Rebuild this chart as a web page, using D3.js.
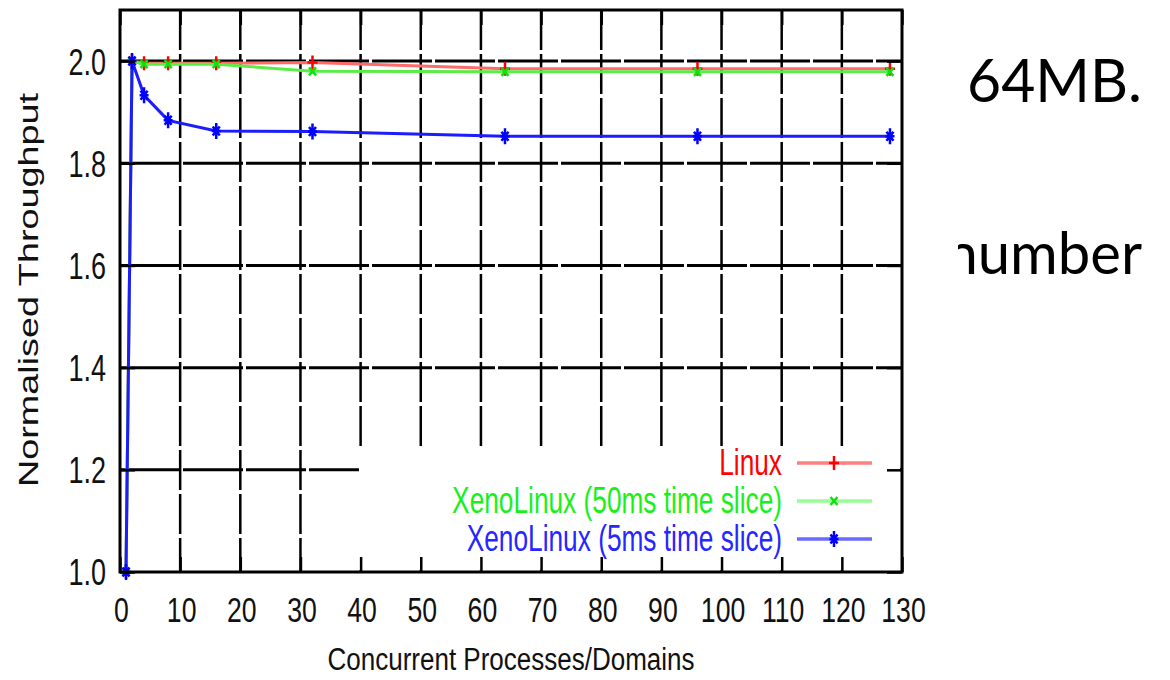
<!DOCTYPE html>
<html>
<head>
<meta charset="utf-8">
<script src="https://cdn.jsdelivr.net/npm/d3@7"></script>
<style>
  html, body { margin: 0; padding: 0; background: #fff; }
  svg { display: block; }
</style>
</head>
<body>
<div id="chart"></div>
<script>
// values
const processes = [1, 2, 4, 8, 16, 32, 64, 96, 128];
const linux = [1.0, 2.0, 1.996, 1.996, 1.996, 1.997, 1.985, 1.985, 1.985];
const xeno50 = [1.0, 2.0, 1.994, 1.994, 1.994, 1.98, 1.979, 1.979, 1.979];
const xeno5 = [1.0, 2.0, 1.933, 1.884, 1.863, 1.862, 1.853, 1.853, 1.853];
const seriesNames = ["Linux", "XenoLinux (50ms time slice)", "XenoLinux (5ms time slice)"];
const xTicks = d3.range(0, 131, 10);
const yTicks = [1.0, 1.2, 1.4, 1.6, 1.8, 2.0];
const slideWords = ["64MB.", "number"];

const width = 1170, height = 680;
const font = "'Liberation Sans', Arial, Helvetica, sans-serif";

const x = d3.scaleLinear().domain([0, 130]).range([120, 902]);
const y = d3.scaleLinear().domain([1.0, 2.1]).range([572, 10]);

const series = [
  { name: seriesNames[0], values: linux, line: "#ff6a6a", key: "#ff8080", mark: "#ff0000", text: "#ff0000", shape: "plus" },
  { name: seriesNames[1], values: xeno50, line: "#5cec48", key: "#98ff98", mark: "#10e010", text: "#18f018", shape: "cross" },
  { name: seriesNames[2], values: xeno5, line: "#1c1cff", key: "#6a6aff", mark: "#0000ff", text: "#2626ff", shape: "star" },
];

// marker glyphs (the plot is squashed sideways, so are they)
const shapes = {
  plus: "M0,-7V7M-5,0H5",
  cross: "M-3.5,-4L3.5,4M-3.5,4L3.5,-4",
  star: "M0,-8V8M-4.5,0H4.5M-3.5,-4.5L3.5,4.5M-3.5,4.5L3.5,-4.5",
};

const svg = d3.select("#chart").append("svg")
  .attr("width", width)
  .attr("height", height)
  .style("background", "#fff");

// slide text that sits behind the pasted chart
svg.append("text")
  .attr("x", 967).attr("y", 102)
  .attr("font-family", "Lato, 'Open Sans', sans-serif")
  .attr("font-size", 60)
  .attr("textLength", 175)
  .attr("lengthAdjust", "spacingAndGlyphs")
  .attr("fill", "#000")
  .text(slideWords[0]);

svg.append("text")
  .attr("x", 1142).attr("y", 274)
  .attr("text-anchor", "end")
  .attr("font-family", "Lato, 'Open Sans', sans-serif")
  .attr("font-size", 58)
  .attr("fill", "#000")
  .text(slideWords[1]);

// the chart picture's own white background (hides the start of "number")
svg.append("rect")
  .attr("x", 0).attr("y", 0)
  .attr("width", 958).attr("height", height)
  .attr("fill", "#fff");

// grid
const grid = svg.append("g").attr("stroke", "#000");
grid.selectAll("line.h")
  .data(yTicks.filter((v) => v > 1.0))
  .join("line")
  .attr("class", "h")
  .attr("x1", x(0)).attr("x2", x(130))
  .attr("y1", (d) => y(d)).attr("y2", (d) => y(d))
  .attr("stroke-width", 3)
  .attr("stroke-dasharray", "60,3");
grid.selectAll("line.v")
  .data(xTicks.filter((v) => v > 0 && v < 130))
  .join("line")
  .attr("class", "v")
  .attr("x1", (d) => x(d)).attr("x2", (d) => x(d))
  .attr("y1", y(2.1)).attr("y2", y(1.0))
  .attr("stroke-width", 2.5)
  .attr("stroke-dasharray", "40,4");

// opaque key box
svg.append("rect")
  .attr("x", 359).attr("y", 447)
  .attr("width", 541).attr("height", 123)
  .attr("fill", "#fff");

// series
const line = d3.line()
  .x((d) => x(d.p))
  .y((d) => y(d.v));

series.forEach((s) => {
  const pts = processes.map((p, i) => ({ p: p, v: s.values[i] }));
  svg.append("path")
    .datum(pts)
    .attr("fill", "none")
    .attr("stroke", s.line)
    .attr("stroke-width", 3)
    .attr("d", line);
  svg.append("g")
    .selectAll("path")
    .data(pts)
    .join("path")
    .attr("transform", (d) => `translate(${x(d.p)},${y(d.v)})`)
    .attr("d", shapes[s.shape])
    .attr("fill", "none")
    .attr("stroke", s.mark)
    .attr("stroke-width", 2.5);
});

// axes, ticks point inwards
const fmt = d3.format(".1f");
const yAxis = svg.append("g")
  .attr("transform", `translate(${x(0)},0)`)
  .call(d3.axisLeft(y).tickValues(yTicks).tickSize(-15).tickFormat(fmt));
const xAxis = svg.append("g")
  .attr("transform", `translate(0,${y(1.0)})`)
  .call(d3.axisBottom(x).tickValues(xTicks).tickSize(-15));
const rAxis = svg.append("g")
  .attr("transform", `translate(${x(130)},0)`)
  .call(d3.axisRight(y).tickValues(yTicks).tickSize(-15).tickFormat(""));
const tAxis = svg.append("g")
  .attr("transform", `translate(0,${y(2.1)})`)
  .call(d3.axisTop(x).tickValues(xTicks).tickSize(-15).tickFormat(""));

[yAxis, xAxis, rAxis, tAxis].forEach((a) => {
  a.select(".domain").remove();
  a.selectAll(".tick line").attr("stroke", "#000").attr("stroke-width", 2.5);
});

yAxis.selectAll(".tick text")
  .attr("x", 0)
  .attr("dy", "0.36em")
  .attr("transform", "translate(-14,0) scale(0.75,1)")
  .attr("font-family", font)
  .attr("font-size", 36)
  .attr("fill", "#111");

xAxis.selectAll(".tick text")
  .attr("y", 0)
  .attr("dy", "0.71em")
  .attr("transform", "translate(1,24) scale(0.74,1)")
  .attr("font-family", font)
  .attr("font-size", 36)
  .attr("fill", "#111");

// frame
svg.append("rect")
  .attr("x", x(0)).attr("y", y(2.1))
  .attr("width", x(130) - x(0))
  .attr("height", y(1.0) - y(2.1))
  .attr("fill", "none")
  .attr("stroke", "#000")
  .attr("stroke-width", 3);

// key
const key = svg.append("g")
  .selectAll("g")
  .data(series)
  .join("g")
  .attr("transform", (d, i) => `translate(0,${463 + i * 38})`);

key.append("text")
  .attr("x", 0)
  .attr("y", 0)
  .attr("transform", "translate(782,12) scale(0.71,1)")
  .attr("text-anchor", "end")
  .attr("font-family", font)
  .attr("font-size", 37)
  .attr("fill", (d) => d.text)
  .text((d) => d.name);

key.append("line")
  .attr("x1", 797).attr("x2", 872)
  .attr("stroke", (d) => d.key)
  .attr("stroke-width", 3.5);

key.append("path")
  .attr("transform", "translate(834,0)")
  .attr("d", (d) => shapes[d.shape])
  .attr("fill", "none")
  .attr("stroke", (d) => d.mark)
  .attr("stroke-width", 2.5);

// axis titles
svg.append("text")
  .attr("x", 511).attr("y", 670)
  .attr("text-anchor", "middle")
  .attr("font-family", font)
  .attr("font-size", 31)
  .attr("textLength", 367)
  .attr("lengthAdjust", "spacingAndGlyphs")
  .attr("fill", "#111")
  .text("Concurrent Processes/Domains");

svg.append("text")
  .attr("transform", "translate(38,290) rotate(-90)")
  .attr("text-anchor", "middle")
  .attr("font-family", font)
  .attr("font-size", 27)
  .attr("textLength", 394)
  .attr("lengthAdjust", "spacingAndGlyphs")
  .attr("fill", "#111")
  .text("Normalised Throughput");
</script>
</body>
</html>
